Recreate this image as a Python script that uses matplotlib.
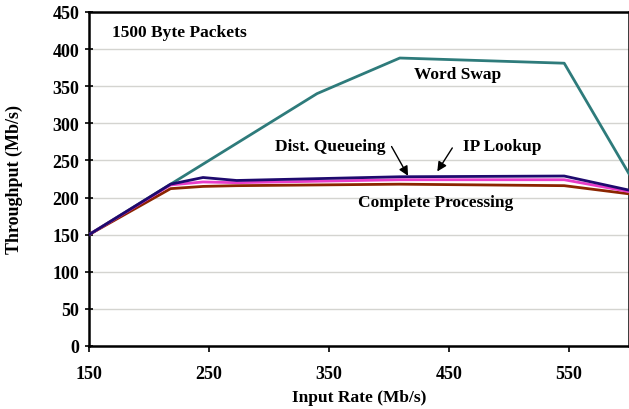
import matplotlib.pyplot as plt
import numpy as np

plt.rcParams['font.family'] = ['Liberation Serif', 'DejaVu Serif']
plt.rcParams['font.weight'] = 'bold'

# data
x_word = [150, 218, 340, 409, 546, 600]
y_word = [150, 218, 340, 388, 381, 232]

x_proc = [150, 218, 245, 273, 409, 546, 600]
y_ip = [150, 218, 227, 223, 228, 229, 210]
y_dq = [150, 217, 221, 220, 224, 224, 208]
y_cp = [150, 212, 215, 216, 218, 216, 205]

xticks = [150, 250, 350, 450, 550]
yticks = np.arange(0, 451, 50)

fig = plt.figure(figsize=(6.29, 4.10), dpi=100)
ax = fig.add_axes([0.1415, 0.1537, 0.8585, 0.8146])

ax.plot(x_word, y_word, color='#2E7B7B', lw=2, zorder=3)
ax.plot(x_proc, y_cp, color='#8B2500', lw=2, zorder=3)
ax.plot(x_proc, y_dq, color='#E83CC8', lw=2, zorder=4)
ax.plot(x_proc, y_ip, color='#1E0A6E', lw=2, zorder=5)

ax.set_xlim(150, 600)
ax.set_ylim(0, 450)
ax.set_xticks(xticks)
ax.set_yticks(yticks)
ax.yaxis.grid(True, color='#d4d4d0', lw=1)
ax.set_axisbelow(True)
for s in ax.spines.values():
    s.set_linewidth(1.8)
ax.tick_params(labelsize=13, width=1.2, length=4)
ax.tick_params(axis='x', pad=10)
ax.tick_params(axis='y', direction='inout', length=6, pad=4)
ax.set_xlabel('Input Rate (Mb/s)', fontsize=12.5, fontweight='bold')
ax.set_ylabel('Throughput (Mb/s)', fontsize=13, fontweight='bold')
ax.xaxis.set_label_coords(0.5, -0.13)
ax.yaxis.set_label_coords(-0.122, 0.5)

ax.text(169, 423, '1500 Byte Packets', fontsize=12.5, fontweight='bold', va='center')
ax.text(457, 367, 'Word Swap', fontsize=12.5, fontweight='bold', ha='center', va='center')
ax.text(305, 270, 'Dist. Queueing', fontsize=12.5, fontweight='bold', va='center')
ax.text(462, 270, 'IP Lookup', fontsize=12.5, fontweight='bold', va='center')
ax.text(374, 194, 'Complete Processing', fontsize=12.5, fontweight='bold', va='center')
ax.annotate('', xy=(417, 226), xytext=(401, 272),
            arrowprops=dict(arrowstyle='-|>', color='black', lw=1, mutation_scale=14))
ax.annotate('', xy=(439, 232), xytext=(454, 270),
            arrowprops=dict(arrowstyle='-|>', color='black', lw=1, mutation_scale=14))

plt.savefig('out.png', dpi=100)
